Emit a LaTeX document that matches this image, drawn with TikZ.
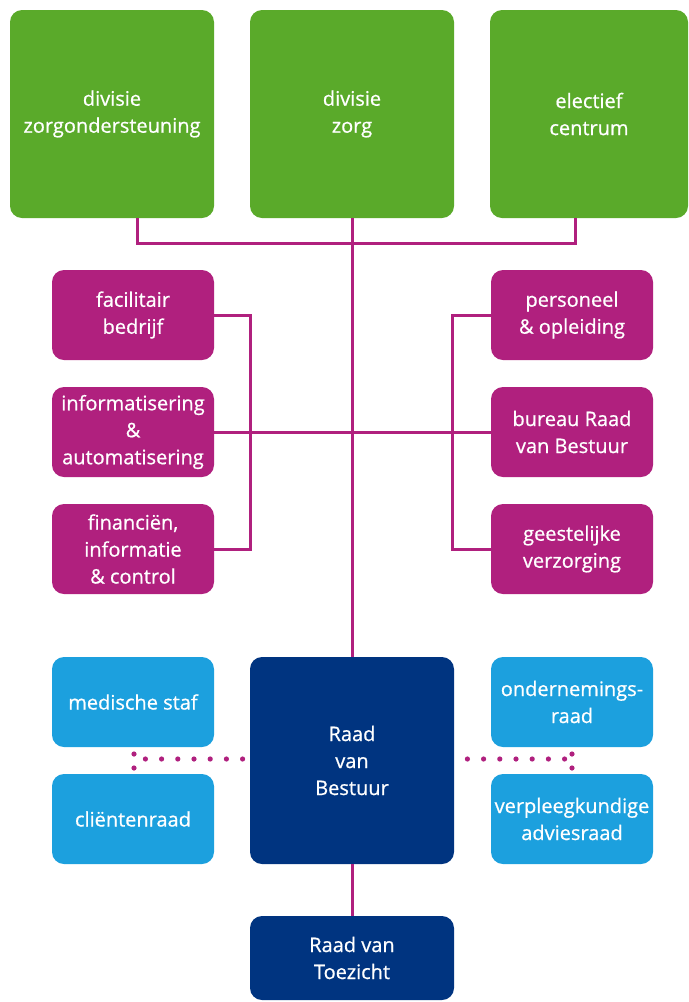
\documentclass[tikz,border=0pt]{standalone}
\usepackage{fontspec}
\setmainfont{Open Sans}[FakeBold=0.7]
\definecolor{divgreen}{RGB}{90,170,42}
\definecolor{staffpink}{RGB}{176,32,126}
\definecolor{councilblue}{RGB}{28,160,222}
\definecolor{boardblue}{RGB}{0,52,128}

\begin{document}
\begin{tikzpicture}[x=0.5pt,y=-0.5pt,
    box/.style={rounded corners=6pt,text=white,align=center,inner sep=0pt,
                font=\fontsize{10}{13.5}\selectfont},
    green box/.style={box,fill=divgreen,minimum width=102pt,minimum height=104pt},
    staff box/.style={box,fill=staffpink,minimum width=81pt,minimum height=45pt},
    council box/.style={box,fill=councilblue,minimum width=81pt,minimum height=45pt},
    board box/.style={box,fill=boardblue,minimum width=102pt},
    link/.style={draw=staffpink,line width=1.5pt},
    dots/.style={draw=staffpink,line width=2.6pt,line cap=round,dash pattern=on 0pt off 8.1pt}]

	\fill[white] (0,0) rectangle (689,1002);
	\useasboundingbox (0,0) rectangle (689,1002);

	% divisies
	\node[green box] (zo) at (112,114) {divisie\\zorgondersteuning};
	\node[green box] (zorg) at (352,114) {divisie\\zorg};
	\node[green box,minimum width=99pt] (ec) at (589,114) {electief\\centrum};

	% stafdiensten
	\node[staff box] (fb) at (133,315) {facilitair\\bedrijf};
	\node[staff box] (ia) at (133,432) {informatisering\\\&\\automatisering};
	\node[staff box] (fic) at (133,549) {financiën,\\informatie\\\& control};
	\node[staff box] (po) at (572,315) {personeel\\\& opleiding};
	\node[staff box] (brvb) at (572,432) {bureau Raad\\van Bestuur};
	\node[staff box] (gv) at (572,549) {geestelijke\\verzorging};

	% raden
	\node[council box] (ms) at (133,702) {medische staf};
	\node[council box] (cr) at (133,819) {cliëntenraad};
	\node[council box] (or) at (572,702) {ondernemings-\\raad};
	\node[council box] (vka) at (572,819) {verpleegkundige\\adviesraad};

	% bestuur
	\node[board box,minimum height=103.5pt] (rvb) at (352,760.5) {Raad\\van\\Bestuur};
	\node[board box,minimum height=42pt] (rvt) at (352,958) {Raad van\\Toezicht};

	\coordinate (bus) at (352,243);
	\coordinate (lbar) at (250,432);
	\coordinate (rbar) at (452,432);
	\coordinate (ldot) at (134,754);
	\coordinate (rdot) at (572,754);

	\draw[link] ([xshift=12.5pt]zo.south) |- (bus) -| ([xshift=-7pt]ec.south);
	\draw[link] (zorg.south) -- (rvb.north);
	\draw[link] (fb.east) -| (lbar) |- (fic.east);
	\draw[link] (po.west) -| (rbar) |- (gv.west);
	\draw[link] (ia.east) -- (brvb.west);
	\draw[link] (rvb.south) -- (rvt.north);

	\draw[dots] ([xshift=-3.5pt,yshift=0.75pt]rvb.west) -- ++(-97.4,0);
	\draw[dots] ([xshift=6.5pt,yshift=0.75pt]rvb.east) -- ++(97.4,0);
	\draw[dots,dash pattern=on 0pt off 7pt] (ldot) -- ++(0,14.5);
	\draw[dots,dash pattern=on 0pt off 7pt] (rdot) -- ++(0,14.5);
\end{tikzpicture}
\end{document}
